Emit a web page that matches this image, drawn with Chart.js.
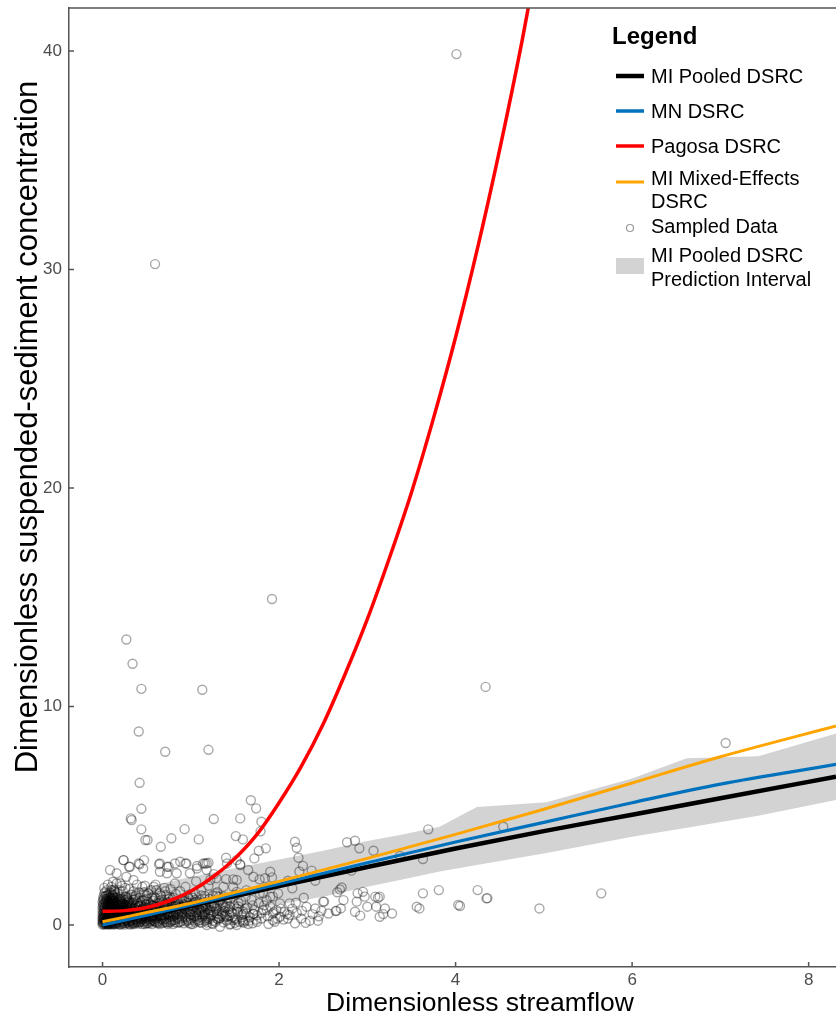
<!DOCTYPE html>
<html lang="en">
<head>
<meta charset="UTF-8">
<title>Dimensionless sediment rating curves</title>
<script src="https://cdn.jsdelivr.net/npm/chart.js@4.4.1/dist/chart.umd.min.js"></script>
<style>
  body { margin: 0; background: #fff; }
  #wrap { width: 836px; height: 1016px; }
</style>
</head>
<body>
<div id="wrap"><canvas id="chart" width="836" height="1016"></canvas></div>
<script>
// ---- data ----
const xTicks = [0, 2, 4, 6, 8];
const yTicks = [0, 10, 20, 30, 40];

const seriesNames = ['MI Pooled DSRC', 'MN DSRC', 'Pagosa DSRC', 'MI Mixed-Effects DSRC', 'Sampled Data', 'MI Pooled DSRC Prediction Interval'];

// fitted curves
const fitX    = [0, 0.25, 0.5, 1, 1.5, 2, 3, 4, 5, 6, 7, 8.31];
const pooledY = [0.02, 0.22, 0.44, 0.88, 1.33, 1.78, 2.66, 3.5, 4.3, 5.05, 5.8, 6.79];
const mnY     = [0.0, 0.22, 0.45, 0.92, 1.4, 1.88, 2.85, 3.8, 4.7, 5.6, 6.45, 7.35];
const mixedY  = [0.15, 0.36, 0.57, 1.0, 1.5, 2.0, 3.05, 4.15, 5.3, 6.5, 7.7, 9.11];

const pagosaX = [0, 0.25, 0.5, 0.75, 1, 1.25, 1.5, 1.75, 2, 2.25, 2.5, 2.75, 3, 3.25, 3.5, 3.75, 4, 4.25, 4.5, 4.75, 5];
const pagosaY = [0.63, 0.66, 0.8, 1.1, 1.55, 2.2, 3.05, 4.15, 5.6, 7.25, 9.2, 11.5, 14.0, 16.8, 19.8, 23.2, 26.9, 31.0, 35.5, 40.4, 45.8];

// prediction interval
const bandX     = [0, 0.5, 1, 1.5, 2, 2.5, 3, 3.37, 3.82, 4.24, 5.03, 6.0, 6.62, 7.43, 8.31];
const bandUpper = [1.3, 1.75, 2.2, 2.6, 3.0, 3.4, 3.85, 4.12, 4.5, 5.4, 5.62, 6.71, 7.63, 7.73, 8.77];
const bandLower = [-0.2, 0.1, 0.4, 0.65, 0.95, 1.3, 1.75, 2.06, 2.45, 2.75, 3.3, 4.04, 4.45, 5.0, 5.72];

// sampled data [streamflow, concentration]
const samples = [
  [4.01,39.86],[0.595,30.25],[1.92,14.92],[0.27,13.07],[0.34,11.96],[0.44,10.81],[1.13,10.77],[4.34,10.9],
  [0.41,8.86],[0.71,7.93],[1.2,8.02],[7.06,8.33],[0.42,6.51],[0.44,5.32],[0.32,4.88],[1.26,4.85],[1.56,4.88],
  [1.68,5.71],[1.74,5.34],[0.44,4.38],[0.485,3.89],[0.51,3.89],[0.66,3.58],[0.78,3.97],[0.93,4.39],[1.09,3.92],
  [1.51,4.07],[1.59,3.92],[1.79,4.29],[1.72,3.05],[1.77,3.4],[1.85,3.51],[1.56,2.78],[1.4,3.08],[1.18,2.82],
  [1.07,2.7],[0.24,2.97],[0.085,2.52],[0.3,2.67],[0.42,2.78],[0.47,2.97],[0.64,2.78],[0.73,2.67],[0.82,2.82],
  [0.94,2.82],[1.14,2.82],[2.18,3.81],[2.2,3.54],[2.22,3.08],[2.27,2.71],[2.77,3.79],[2.86,3.86],[2.91,3.51],
  [3.07,3.4],[3.37,3.16],[3.69,4.38],[4.54,4.5],[3.63,3.02],
  [2.82,2.49],[2.71,1.72],[2.66,1.5],[2.89,1.45],[2.95,1.52],[2.97,1.3],[3.12,1.25],[3.1,0.84],[3.2,0.76],
  [3.28,0.53],[3.56,0.84],[3.59,0.76],[3.63,1.45],[3.81,1.6],[4.03,0.92],[4.05,0.87],[4.25,1.6],[4.35,1.22],
  [4.36,1.23],[4.95,0.76],[5.65,1.45],[2.5,1.07],[2.64,0.64],[2.86,0.61],[2.7,0.76],[2.56,0.53],[2.18,0.08],
  [2.12,0.46],[2.01,0.38],[1.93,0.53],
  [2.37,2.49],[2.41,2.03],[2.23,2.45],[2.1,2.03],[2.15,1.68],[1.92,2.18],[1.78,2.09],[1.26,2.33],[1.2,2.85],
  [1.82,1.45],[1.9,1.3],[1.99,1.45],[1.52,1.52],[1.48,2.09],[1.37,1.75],[1.29,1.33],[1.16,1.33],[1.05,1.45],
  [0.95,1.14],[2.12,0.99],[2.19,1.02],[2.28,1.25],[2.31,0.84],[2.41,0.76],[2.51,1.07],[2.65,0.65],[2.73,1.14],
  [2.69,1.63],[2.88,1.07],[3.09,1.3],[3.14,1.3],[3.0,0.84],[3.18,0.5],[2.92,0.43],[3.14,0.38],[2.09,0.5],
  [1.82,0.69],[1.71,0.5],[1.63,0.53],[1.59,0.15],[1.48,0.23],[1.41,0.38],[1.31,0.38],[1.16,0.46],[1.07,0.46],
  [1.24,0.84],[1.37,0.84],
  [0.33,4.81],[1.8,4.73],[0.236,2.97],[0.31,2.67],[0.16,2.37],[0.27,2.21],[0.12,1.98],[0.2,1.91],[0.35,2.06],
  [0.03,1.52],[0.01,1.14],[0.1,1.6],[0.41,2.82],[0.46,2.59],[0.65,2.82],[0.75,2.67],[0.65,2.44],[0.73,2.37],
  [0.84,2.37],[0.88,2.9],[0.95,2.82],[0.99,2.37],[1.07,2.59],[1.16,2.82],[1.18,2.52],[1.22,2.06],[1.29,2.14],
  [1.41,2.82],[1.52,2.97],[1.56,2.75],[1.65,2.52],[1.71,2.21],[1.52,2.06],[1.48,1.75],[1.63,1.6],[1.78,1.45],
  [1.86,1.14],[1.93,1.3],[1.86,0.69],[1.71,0.53],[1.59,0.23],[1.37,0.38],[1.18,0.0],[1.33,-0.08],[1.52,0.0],
  [1.75,0.15],[1.93,0.23],[1.97,0.69],[2.01,0.99],[1.84,2.14],[1.9,2.44],
  // dense cloud near the origin
  [0.0,0.02],[0.01,0.05],[0.02,0.03],[0.03,0.08],[0.04,0.04],[0.05,0.1],[0.06,0.06],[0.07,0.12],[0.08,0.03],
  [0.09,0.09],[0.1,0.05],[0.11,0.14],[0.12,0.07],[0.14,0.11],[0.15,0.04],[0.17,0.16],[0.18,0.08],[0.2,0.12],
  [0.22,0.05],[0.24,0.18],[0.26,0.09],[0.28,0.14],[0.3,0.06],[0.33,0.2],[0.35,0.1],[0.38,0.15],[0.41,0.07],
  [0.44,0.22],[0.47,0.12],[0.5,0.18],[0.53,0.08],[0.57,0.25],[0.6,0.13],[0.64,0.2],[0.68,0.09],[0.72,0.28],
  [0.76,0.15],[0.8,0.22],[0.85,0.1],[0.9,0.32],[0.95,0.17],[1.0,0.25],[1.05,0.12],[1.1,0.35],[1.16,0.2],
  [1.22,0.28],[1.28,0.15],[1.35,0.42],[1.42,0.25],[1.5,0.1],[1.58,0.35],[1.66,0.2],[1.75,0.45],
  [0.0,0.22],[0.02,0.3],[0.03,0.18],[0.05,0.35],[0.06,0.25],[0.08,0.4],[0.09,0.2],[0.11,0.32],[0.13,0.26],
  [0.15,0.45],[0.17,0.3],[0.19,0.38],[0.21,0.28],[0.23,0.5],[0.25,0.35],[0.27,0.42],[0.3,0.3],[0.32,0.55],
  [0.35,0.38],[0.37,0.47],[0.4,0.33],[0.43,0.6],[0.46,0.4],[0.49,0.52],[0.52,0.36],[0.55,0.65],[0.58,0.45],
  [0.62,0.58],[0.65,0.4],[0.69,0.7],[0.73,0.5],[0.77,0.62],[0.81,0.45],[0.86,0.78],[0.9,0.55],[0.94,0.68],
  [0.99,0.48],[1.04,0.85],[1.09,0.6],[1.14,0.75],[1.2,0.55],[1.26,0.95],[1.32,0.65],[1.39,0.8],[1.46,0.6],
  [1.54,1.0],[1.62,0.75],[1.7,0.9],
  [0.01,0.55],[0.02,0.7],[0.04,0.48],[0.05,0.62],[0.07,0.8],[0.08,0.58],[0.1,0.72],[0.12,0.52],[0.14,0.88],
  [0.16,0.65],[0.18,0.75],[0.2,0.6],[0.22,0.95],[0.24,0.7],[0.27,0.82],[0.29,0.62],[0.32,1.0],[0.34,0.75],
  [0.37,0.9],[0.4,0.68],[0.43,1.05],[0.46,0.8],[0.5,0.95],[0.53,0.72],[0.57,1.12],[0.61,0.85],[0.65,1.0],
  [0.7,0.78],[0.75,1.2],[0.8,0.92],[0.85,1.08],[0.91,0.85],[0.97,1.28],[1.03,1.0],[1.1,1.15],[1.17,0.92],
  [1.25,1.35],[1.33,1.1],[1.42,1.25],
  [0.01,0.95],[0.03,1.1],[0.05,0.85],[0.07,1.25],[0.09,1.0],[0.12,1.35],[0.14,1.12],[0.17,1.45],[0.2,1.2],
  [0.23,1.55],[0.26,1.3],[0.3,1.65],[0.33,1.4],[0.37,1.2],[0.41,1.5],[0.45,1.75],[0.5,1.35],[0.55,1.6],
  [0.6,1.85],[0.65,1.45],[0.7,1.7],[0.76,1.3],[0.82,1.9],[0.88,1.55],[0.94,1.75],[1.0,1.4],[1.06,2.0],
  [1.12,1.6],[1.2,1.8],[1.3,1.5],[1.4,2.1],
  [1.8,0.3],[1.88,0.05],[1.95,0.15],[2.05,0.25],[2.25,0.3],[2.35,0.2],[2.45,0.4],[1.65,0.05],[1.45,0.05],
  [1.25,0.05],[1.0,0.05],[0.8,0.04],
  [0.005,0.12],[0.015,0.18],[0.025,0.25],[0.035,0.14],[0.045,0.3],[0.055,0.2],[0.065,0.38],[0.075,0.27],
  [0.085,0.16],[0.095,0.45],[0.105,0.33],[0.115,0.22],[0.125,0.5],[0.135,0.4],[0.145,0.28],[0.155,0.6],
  [0.165,0.48],[0.175,0.36],[0.185,0.22],[0.195,0.68],[0.205,0.52],[0.215,0.4],[0.225,0.3],[0.235,0.8],
  [0.245,0.62],[0.255,0.46],[0.265,0.24],[0.275,0.9],[0.285,0.55],[0.295,0.38],
  [0.01,0.4],[0.02,0.5],[0.03,0.62],[0.04,0.75],[0.05,0.45],[0.06,0.88],[0.07,0.55],[0.08,0.68],[0.09,0.78],
  [0.1,0.9],[0.11,0.62],[0.12,0.8],[0.13,1.0],[0.14,0.7],[0.15,0.85],[0.16,1.05],[0.17,0.55],[0.18,0.95],
  [0.19,1.15],[0.2,0.8],[0.21,1.0],[0.22,0.7],[0.23,1.2],[0.24,0.92],[0.25,1.1],[0.26,0.58],[0.27,1.25],
  [0.28,1.02],[0.29,0.8],[0.3,1.12],
  [0.005,0.32],[0.015,0.6],[0.025,0.85],[0.035,1.0],[0.045,1.18],[0.055,1.35],[0.065,0.98],[0.075,1.1],
  [0.085,1.3],[0.095,1.45],[0.105,1.2],[0.115,1.05],[0.125,1.25],[0.135,1.55],[0.145,1.4],
  [0.31,0.15],[0.33,0.35],[0.34,0.62],[0.36,0.25],[0.37,0.72],[0.39,0.5],[0.4,0.18],[0.41,0.88],[0.42,0.4],
  [0.44,0.65],[0.45,1.12],[0.46,0.28],[0.48,0.82],[0.49,0.45],[0.5,1.2],[0.51,0.6],[0.52,0.25],[0.54,0.95],
  [0.55,0.4],[0.56,0.78],[0.58,1.3],[0.59,0.32],[0.6,0.62],[0.62,1.0],[0.63,0.48],[0.64,0.85],[0.66,0.3],
  [0.67,1.15],[0.68,0.62],[0.7,0.45],[0.71,0.95],[0.72,1.38],[0.74,0.72],[0.75,0.35],[0.76,1.05],[0.78,0.55],
  [0.79,0.85],[0.8,1.25],
  [0.32,0.8],[0.35,1.15],[0.38,1.35],[0.42,1.25],[0.47,1.5],[0.52,1.45],[0.56,1.25],[0.61,1.6],[0.66,1.35],
  [0.71,1.55],[0.77,1.65],[0.83,1.42],
  [0.31,0.45],[0.34,0.1],[0.38,0.58],[0.43,0.15],[0.48,0.05],[0.51,0.42],[0.57,0.55],[0.61,0.3],[0.65,0.05],
  [0.69,0.22],[0.73,0.1],[0.77,0.38],
  [0.82,0.6],[0.84,0.3],[0.86,0.95],[0.87,0.15],[0.89,0.75],[0.91,1.1],[0.92,0.4],[0.94,0.9],[0.96,0.25],
  [0.98,1.2],[1.0,0.62],[1.01,0.9],[1.03,0.35],[1.05,1.15],[1.07,0.75],[1.08,0.2],[1.1,0.95],[1.12,1.35],
  [1.13,0.5],[1.15,1.05],[1.17,0.3],[1.19,0.72],[1.21,1.2],[1.23,0.45],[1.24,1.0],[1.26,0.62],[1.28,1.45],
  [1.3,0.85],[1.31,0.25],[1.33,1.15],[1.35,0.6],[1.37,1.3],[1.39,0.45],[1.41,1.0],[1.43,0.72],[1.45,1.2],
  [1.47,0.35],[1.49,0.9],[1.51,1.4],[1.53,0.6],[1.55,0.15],[1.57,1.1],[1.6,0.5],[1.62,1.3],[1.64,0.8],
  [1.67,0.35],[1.69,1.15],[1.72,0.7],[1.74,0.25],[1.77,1.0],[1.8,0.55],[1.83,0.9],[1.87,0.4],[1.9,0.85],
  [1.94,0.6],[1.98,0.3],[2.02,0.75],[2.06,0.6],[2.1,0.3],[2.15,0.75],[2.2,0.55],[2.26,0.65],[2.3,0.1],
  [2.38,0.5],[2.44,0.2],[2.48,0.65],
  [0.02,0.1],[0.04,0.15],[0.06,0.02],[0.08,0.18],[0.1,0.12],[0.12,0.02],[0.13,0.17],[0.16,0.1],[0.19,0.03],
  [0.21,0.2],[0.23,0.11],[0.25,0.02],[0.27,0.22],[0.29,0.1],[0.31,0.02],[0.34,0.16],[0.36,0.05],[0.39,0.24],
  [0.42,0.14],[0.45,0.04],[0.48,0.2],[0.51,0.1],[0.54,0.28],[0.56,0.05],[0.59,0.18],[0.62,0.08],[0.66,0.26],
  [0.7,0.14],[0.74,0.05],[0.78,0.2],[0.82,0.12],[0.87,0.28],[0.92,0.08],[0.97,0.2],[1.02,0.04],[1.07,0.28],
  [1.12,0.1],[1.18,0.22],[1.24,0.08],[1.3,0.3],[1.37,0.12],[1.44,0.02],[1.52,0.25],[1.6,0.1],[1.7,0.08],
  [0.01,0.3],[0.03,0.42],[0.05,0.55],[0.07,0.35],[0.09,0.6],[0.11,0.45],[0.13,0.7],[0.15,0.38],[0.17,0.62],
  [0.19,0.5],[0.21,0.75],[0.23,0.4],[0.25,0.58],[0.27,0.68],[0.29,0.45],[0.31,0.72],[0.33,0.52],[0.36,0.62],
  [0.39,0.78],[0.41,0.55],[0.44,0.38],[0.47,0.68],[0.5,0.5],[0.53,0.8],[0.56,0.35],[0.59,0.7],[0.63,0.55],
  [0.67,0.8],[0.71,0.6],[0.75,0.45],[0.79,0.72],[0.83,0.55],[0.88,0.4],[0.93,0.75],[0.98,0.58],[1.04,0.42],
  [1.1,0.7],[1.16,0.58],[1.22,0.38],[1.29,0.75],[1.36,0.5],[1.44,0.45],[1.52,0.75],[1.59,0.62],
  [0.02,0.82],[0.04,1.05],[0.06,0.92],[0.08,1.15],[0.1,0.98],[0.12,1.2],[0.15,0.95],[0.17,1.1],[0.2,1.3],
  [0.22,1.08],[0.25,0.88],[0.28,1.18],[0.31,0.9],[0.34,1.05],[0.37,1.28],[0.4,1.0],[0.44,0.92],[0.48,1.15],
  [0.52,1.05],[0.56,0.9],[0.6,1.25],[0.64,1.12],[0.69,0.9],[0.74,1.05],[0.79,1.18],[0.84,0.88],[0.9,1.2],
  [0.96,1.02],[1.02,1.25],[1.09,1.05],[1.16,1.18],[1.23,0.88],[1.32,1.3],
  [0.0,0.5],[0.0,0.8],[0.0,1.05],[0.01,1.3],[0.02,1.45],[0.02,1.7],[0.04,1.35],[0.05,1.6],[0.06,1.85],
  [0.08,1.5],[0.1,1.75],[0.13,1.62],[0.16,1.9],[0.19,1.6],[0.22,1.8],[0.26,1.7],[0.35,1.55],[0.39,1.85],
  [0.48,1.8],[0.58,1.75],
  [0.03,0.2],[0.05,0.28],[0.07,0.05],[0.09,0.3],[0.11,0.08],[0.13,0.36],[0.14,0.05],[0.16,0.25],[0.18,0.42],
  [0.2,0.02],[0.22,0.34],[0.24,0.1],[0.26,0.48],[0.28,0.28],[0.3,0.18],[0.32,0.4],[0.34,0.05],[0.36,0.5],
  [0.38,0.3],[0.4,0.12],[0.42,0.52],[0.44,0.3],[0.46,0.6],[0.48,0.35],[0.5,0.08],[0.52,0.55],[0.54,0.15],
  [0.56,0.45],[0.58,0.2],[0.6,0.72],[0.62,0.38],[0.64,0.1],[0.66,0.6],[0.68,0.35],[0.7,0.85],[0.72,0.15],
  [0.74,0.55],[0.76,0.25],[0.78,0.92],[0.8,0.4],[0.82,0.22],[0.84,0.72],[0.86,0.48],[0.88,0.12],[0.9,0.62],
  [0.92,0.85],[0.94,0.35],[0.96,0.72],[0.98,0.1],[1.0,0.48],[1.02,0.75],[1.04,0.2],[1.06,0.55],[1.08,0.95],
  [1.1,0.22],[1.12,0.62],[1.14,0.4],[1.16,0.85],[1.18,0.12],[1.2,0.48],
  [0.015,0.45],[0.025,0.38],[0.035,0.55],[0.045,0.68],[0.055,0.5],[0.065,0.72],[0.075,0.45],[0.085,0.85],
  [0.095,0.62],[0.105,0.78],[0.115,0.95],[0.125,0.68],[0.135,0.82],[0.145,0.58],[0.155,1.0],[0.165,0.78],
  [0.175,0.9],[0.185,0.68],[0.195,0.88],[0.205,1.08],[0.215,0.85],[0.225,0.62],[0.235,1.0],[0.245,0.78],
  [0.255,0.95],[0.265,1.15],[0.275,0.72],[0.285,0.92],[0.295,1.05],
  [0.0,0.12],[0.0,0.35],[0.0,0.65],[0.005,0.9],[0.01,1.2],[0.015,0.75],[0.02,1.0],[0.03,1.3],[0.04,0.92],
  [0.05,1.2],[0.06,1.05],[0.07,1.4],[0.08,0.95],[0.09,1.25],[0.1,1.1],[0.11,1.4],[0.12,1.1],[0.13,1.3],
  [0.14,1.5],[0.15,1.25],
  [0.32,0.25],[0.35,0.48],[0.37,0.12],[0.4,0.6],[0.43,0.28],[0.45,0.72],[0.47,0.42],[0.5,0.3],[0.52,0.75],
  [0.55,0.2],[0.57,0.62],[0.6,0.42],[0.62,0.15],[0.65,0.72],[0.67,0.45],[0.7,0.28],[0.72,0.82],[0.75,0.6],
  [0.77,0.12],[0.8,0.5],[0.82,0.85],[0.85,0.35],[0.87,0.62],[0.9,0.2],[0.92,0.95],[0.95,0.5],[0.97,0.8],
  [1.0,0.32],[1.02,0.62],[1.05,0.92],[1.07,0.4],[1.1,0.12],[1.12,0.8],[1.15,0.5],[1.17,0.98],[1.2,0.3],
  [1.22,0.68],[1.25,0.2],[1.27,0.85],[1.3,0.5],[1.33,0.32],[1.36,0.92],[1.38,0.65],[1.41,0.2],[1.44,0.85],
  [1.47,0.55],[1.5,0.3],[1.54,0.85],[1.58,0.45],[1.62,0.2],
  [0.33,0.9],[0.36,0.78],[0.39,1.05],[0.42,0.85],[0.45,0.52],[0.49,0.92],[0.53,0.6],[0.57,0.88],[0.61,0.72],
  [0.65,0.9],[0.69,1.05],[0.73,0.92],[0.78,0.75],[0.83,1.0],[0.88,0.85],[0.93,1.1],[0.99,0.9],[1.06,1.05],
  [1.13,0.85],[1.2,1.05]
];

// ---- chart ----
const FONT = '"Liberation Sans", Arial, sans-serif';
const AXIS = '#555555';
const pts = (xs, ys) => xs.map((v, i) => ({ x: v, y: ys[i] }));

const curve = (label, xs, ys, color, width) => ({
  label, data: pts(xs, ys), showLine: true, borderColor: color, borderWidth: width,
  pointRadius: 0, fill: false, cubicInterpolationMode: 'monotone'
});

// drawn top-first: Chart.js paints the last dataset first
const datasets = [
  curve(seriesNames[3], fitX, mixedY, '#FFA500', 3),
  curve(seriesNames[2], pagosaX, pagosaY, '#FF0000', 3.5),
  curve(seriesNames[1], fitX, mnY, '#0072BD', 3.2),
  curve(seriesNames[0], fitX, pooledY, '#000000', 4.5),
  {
    label: seriesNames[4], data: samples.map(p => ({ x: p[0], y: p[1] })),
    pointStyle: 'circle', pointRadius: 4.5, borderWidth: 1.4,
    borderColor: 'rgba(0,0,0,0.34)', backgroundColor: 'rgba(0,0,0,0)', showLine: false
  },
  {
    label: seriesNames[5], data: pts(bandX, bandUpper), showLine: true, pointRadius: 0,
    borderWidth: 0, borderColor: 'rgba(0,0,0,0)', backgroundColor: '#D3D3D3', fill: '+1'
  },
  {
    label: 'lower', data: pts(bandX, bandLower), showLine: true, pointRadius: 0,
    borderWidth: 0, borderColor: 'rgba(0,0,0,0)', fill: false
  }
];

// axis titles, inward ticks, top border and legend
const decor = {
  id: 'decor',
  afterDraw(chart) {
    const { ctx, chartArea: a, scales: { x, y } } = chart;
    ctx.save();
    ctx.strokeStyle = AXIS;
    ctx.lineWidth = 1.5;
    ctx.beginPath();
    ctx.moveTo(a.left, a.top); ctx.lineTo(a.right, a.top);
    xTicks.forEach(v => { const px = x.getPixelForValue(v); ctx.moveTo(px, a.bottom); ctx.lineTo(px, a.bottom - 5); });
    yTicks.forEach(v => { const py = y.getPixelForValue(v); ctx.moveTo(a.left, py); ctx.lineTo(a.left + 5, py); });
    ctx.stroke();

    // axis titles
    ctx.fillStyle = '#000';
    ctx.font = '26.5px ' + FONT;
    ctx.textAlign = 'center';
    ctx.textBaseline = 'alphabetic';
    ctx.fillText('Dimensionless streamflow', 480, 1011);
    ctx.save();
    ctx.translate(37, 427);
    ctx.rotate(-Math.PI / 2);
    ctx.font = '31px ' + FONT;
    ctx.fillText('Dimensionless suspended-sediment concentration', 0, 0);
    ctx.restore();

    // legend
    ctx.textAlign = 'left';
    ctx.font = 'bold 24px ' + FONT;
    ctx.fillText('Legend', 612, 44);
    ctx.font = '20px ' + FONT;
    const lines = [
      { c: '#000000', w: 4.5, y: 76, t: ['MI Pooled DSRC'], ty: 83 },
      { c: '#0072BD', w: 3.5, y: 111, t: ['MN DSRC'], ty: 118 },
      { c: '#FF0000', w: 3.5, y: 146, t: ['Pagosa DSRC'], ty: 153 },
      { c: '#FFA500', w: 3, y: 182, t: ['MI Mixed-Effects', 'DSRC'], ty: 185 }
    ];
    lines.forEach(l => {
      ctx.strokeStyle = l.c; ctx.lineWidth = l.w;
      ctx.beginPath(); ctx.moveTo(616, l.y); ctx.lineTo(644, l.y); ctx.stroke();
      l.t.forEach((s, i) => ctx.fillText(s, 651, l.ty + i * 23));
    });
    ctx.strokeStyle = 'rgba(0,0,0,0.4)'; ctx.lineWidth = 1.2;
    ctx.beginPath(); ctx.arc(630, 228, 3.5, 0, Math.PI * 2); ctx.stroke();
    ctx.fillText('Sampled Data', 651, 233);
    ctx.fillStyle = '#D3D3D3';
    ctx.fillRect(616, 258, 28, 16);
    ctx.fillStyle = '#000';
    ctx.fillText('MI Pooled DSRC', 651, 262);
    ctx.fillText('Prediction Interval', 651, 286);
    ctx.restore();
  }
};

new Chart(document.getElementById('chart').getContext('2d'), {
  type: 'scatter',
  data: { datasets },
  options: {
    responsive: false,
    animation: false,
    layout: { autoPadding: false, padding: { top: 8, right: 0, left: 0, bottom: 0 } },
    plugins: { legend: { display: false }, tooltip: { enabled: false } },
    scales: {
      x: {
        type: 'linear', min: -0.38, max: 8.31,
        afterBuildTicks: s => { s.ticks = xTicks.map(v => ({ value: v })); },
        afterFit: s => { s.height = 49; s.paddingLeft = 0; s.paddingRight = 0; },
        grid: { display: false, drawTicks: false },
        border: { display: true, color: AXIS, width: 1.5 },
        ticks: { color: '#4d4d4d', padding: 3, font: { family: FONT, size: 17 } }
      },
      y: {
        type: 'linear', min: -1.92, max: 41.97,
        afterBuildTicks: s => { s.ticks = yTicks.map(v => ({ value: v })); },
        afterFit: s => { s.width = 69; s.paddingTop = 0; s.paddingBottom = 0; },
        grid: { display: false, drawTicks: false },
        border: { display: true, color: AXIS, width: 1.5 },
        ticks: { color: '#4d4d4d', padding: 7, font: { family: FONT, size: 17 } }
      }
    }
  },
  plugins: [decor]
});
</script>
</body>
</html>
